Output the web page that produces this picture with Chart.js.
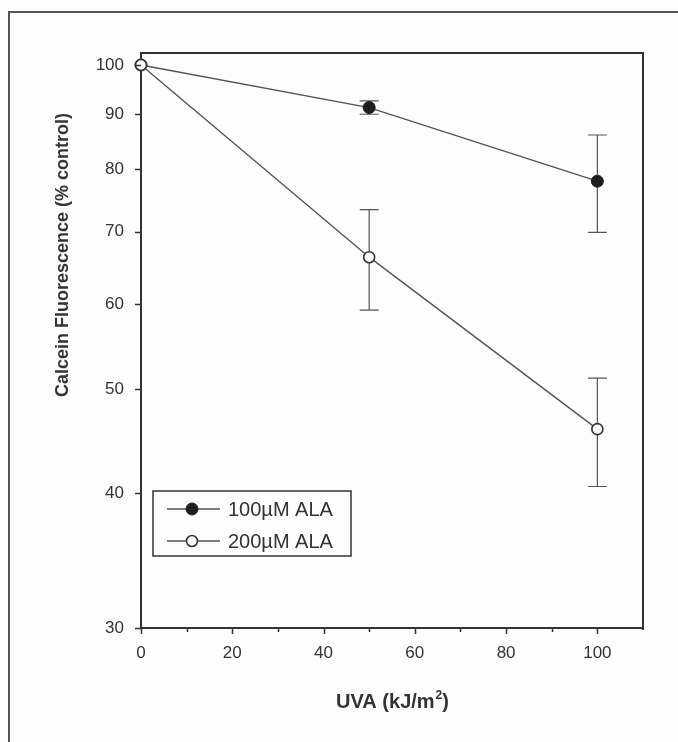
<!DOCTYPE html>
<html>
<head>
<meta charset="utf-8">
<script src="https://cdn.jsdelivr.net/npm/chart.js@4"></script>
<style>
  html, body { margin: 0; padding: 0; background: #fdfdfd; }
  canvas { display: block; }
</style>
</head>
<body>
<canvas id="c" width="678" height="742"></canvas>
<script>
// UVA dose (kJ/m²)
const doses = [0, 50, 100];
// Calcein fluorescence, % of control, with error bar half-widths
const ala100 = [100, 91.3, 78.0];
const ala100Err = [0, 1.3, 8.1];
const ala200 = [100, 66.3, 45.9];
const ala200Err = [0, 7.1, 5.3];
const seriesNames = ['100\u00B5M ALA', '200\u00B5M ALA'];
// axis ticks
const yTicks = [30, 40, 50, 60, 70, 80, 90, 100];
const xMajorTicks = [0, 20, 40, 60, 80, 100];
const xMinorTicks = [10, 30, 50, 70, 90];
const yTitle = 'Calcein Fluorescence (% control)';
const xTitleMain = 'UVA (kJ/m';
const xTitleSup = '2';
const xTitleEnd = ')';

const ink = '#333';
const lineCol = '#555';
const FONT = '"Liberation Sans", Arial, sans-serif';

const toPts = ys => doses.map((x, i) => ({ x: x, y: ys[i] }));

// page frame, plot box, tick marks, axis titles
const framePlugin = {
  id: 'frame',
  beforeDraw(chart) {
    const c = chart.ctx;
    c.save();
    c.fillStyle = '#fdfdfd';
    c.fillRect(0, 0, chart.width, chart.height);
    c.strokeStyle = '#555';
    c.lineWidth = 2;
    c.beginPath();
    c.moveTo(9, chart.height);
    c.lineTo(9, 12);
    c.lineTo(chart.width, 12);
    c.stroke();
    c.restore();
  },
  afterDraw(chart) {
    const c = chart.ctx;
    const a = chart.chartArea;
    const xs = chart.scales.x, ys = chart.scales.y;
    c.save();
    c.strokeStyle = ink;
    c.lineWidth = 2;
    c.beginPath();
    c.moveTo(a.left, a.top);
    c.lineTo(a.right, a.top);
    c.lineTo(a.right, a.bottom + 2);
    c.stroke();
    c.lineWidth = 1.5;
    c.beginPath();
    yTicks.forEach(v => {
      const py = Math.round(ys.getPixelForValue(v)) + 0.5;
      c.moveTo(a.left - 6, py); c.lineTo(a.left, py);
    });
    xMajorTicks.forEach(v => {
      const px = Math.round(xs.getPixelForValue(v)) + 0.5;
      c.moveTo(px, a.bottom); c.lineTo(px, a.bottom + 6);
    });
    xMinorTicks.forEach(v => {
      const px = Math.round(xs.getPixelForValue(v)) + 0.5;
      c.moveTo(px, a.bottom); c.lineTo(px, a.bottom + 4);
    });
    c.stroke();

    // axis titles
    c.fillStyle = ink;
    c.font = 'bold 18px ' + FONT;
    c.textAlign = 'center';
    c.textBaseline = 'middle';
    c.save();
    c.translate(63, 255);
    c.rotate(-Math.PI / 2);
    c.fillText(yTitle, 0, 0);
    c.restore();

    const cx = (a.left + a.right) / 2;
    c.font = 'bold 20px ' + FONT;
    const w1 = c.measureText(xTitleMain).width;
    c.font = 'bold 12px ' + FONT;
    const w2 = c.measureText(xTitleSup).width;
    c.font = 'bold 20px ' + FONT;
    const w3 = c.measureText(xTitleEnd).width;
    let x0 = cx - (w1 + w2 + w3) / 2;
    const by = 708;
    c.textAlign = 'left';
    c.textBaseline = 'alphabetic';
    c.fillText(xTitleMain, x0, by);
    c.font = 'bold 12px ' + FONT;
    c.fillText(xTitleSup, x0 + w1 + 1, by - 9);
    c.font = 'bold 20px ' + FONT;
    c.fillText(xTitleEnd, x0 + w1 + w2 + 1, by);
    c.restore();
  }
};

// vertical error bars with caps, under the markers
const errorBarPlugin = {
  id: 'errorBars',
  beforeDatasetsDraw(chart) {
    const c = chart.ctx;
    const xs = chart.scales.x, ys = chart.scales.y;
    c.save();
    c.strokeStyle = '#555';
    c.lineWidth = 1.2;
    chart.data.datasets.forEach(ds => {
      ds.data.forEach((p, i) => {
        const e = ds.errors[i];
        if (!e) return;
        const px = xs.getPixelForValue(p.x);
        const yt = ys.getPixelForValue(p.y + e);
        const yb = ys.getPixelForValue(p.y - e);
        c.beginPath();
        c.moveTo(px, yt); c.lineTo(px, yb);
        c.moveTo(px - 9.5, yt); c.lineTo(px + 9.5, yt);
        c.moveTo(px - 9.5, yb); c.lineTo(px + 9.5, yb);
        c.stroke();
      });
    });
    c.restore();
  }
};

// boxed legend in the lower-left of the plot
const legendPlugin = {
  id: 'boxLegend',
  afterDraw(chart) {
    const c = chart.ctx;
    const bx = 153, byTop = 491, bw = 198, bh = 65;
    c.save();
    c.strokeStyle = ink;
    c.lineWidth = 1.5;
    c.fillStyle = '#fdfdfd';
    c.fillRect(bx, byTop, bw, bh);
    c.strokeRect(bx, byTop, bw, bh);
    chart.data.datasets.forEach((ds, i) => {
      const ry = byTop + 18 + i * 32;
      c.strokeStyle = ds.borderColor;
      c.lineWidth = ds.borderWidth;
      c.beginPath();
      c.moveTo(167, ry); c.lineTo(220, ry);
      c.stroke();
      c.beginPath();
      c.arc(192, ry, ds.pointRadius, 0, Math.PI * 2);
      c.fillStyle = ds.pointBackgroundColor;
      c.fill();
      c.lineWidth = ds.pointBorderWidth;
      c.strokeStyle = ds.pointBorderColor;
      c.stroke();
      c.fillStyle = ink;
      c.font = '20px ' + FONT;
      c.textAlign = 'left';
      c.textBaseline = 'middle';
      c.fillText(ds.label, 228, ry + 1);
    });
    c.restore();
  }
};

new Chart(document.getElementById('c').getContext('2d'), {
  type: 'line',
  data: {
    datasets: [
      {
        label: seriesNames[0], data: toPts(ala100), errors: ala100Err,
        borderColor: lineCol, borderWidth: 1.4, tension: 0, fill: false,
        pointRadius: 6, pointBackgroundColor: '#1e1e1e', pointBorderColor: '#1e1e1e',
        pointBorderWidth: 1, order: 2, clip: false
      },
      {
        label: seriesNames[1], data: toPts(ala200), errors: ala200Err,
        borderColor: lineCol, borderWidth: 1.4, tension: 0, fill: false,
        pointRadius: 5.5, pointBackgroundColor: '#ffffff', pointBorderColor: '#333',
        pointBorderWidth: 1.6, order: 1, clip: false
      }
    ]
  },
  options: {
    responsive: false,
    animation: false,
    devicePixelRatio: 1,
    layout: { padding: { top: 53, right: 35, left: 0, bottom: 0 } },
    plugins: { legend: { display: false }, tooltip: { enabled: false } },
    scales: {
      x: {
        type: 'linear', min: 0, max: 110,
        afterFit(s) { s.height = 114; },
        afterBuildTicks(s) { s.ticks = xMajorTicks.map(v => ({ value: v })); },
        grid: { display: false, drawTicks: false },
        border: { display: true, color: ink, width: 2 },
        ticks: { padding: 15, color: ink, maxRotation: 0, font: { family: FONT, size: 17 } }
      },
      y: {
        type: 'logarithmic', min: 30, max: 102.6,
        afterFit(s) { s.width = 141; },
        afterBuildTicks(s) { s.ticks = yTicks.map(v => ({ value: v })); },
        grid: { display: false, drawTicks: false },
        border: { display: true, color: ink, width: 2 },
        ticks: { padding: 17, color: ink, font: { family: FONT, size: 17 }, callback: v => String(v) }
      }
    }
  },
  plugins: [framePlugin, errorBarPlugin, legendPlugin]
});
</script>
</body>
</html>
